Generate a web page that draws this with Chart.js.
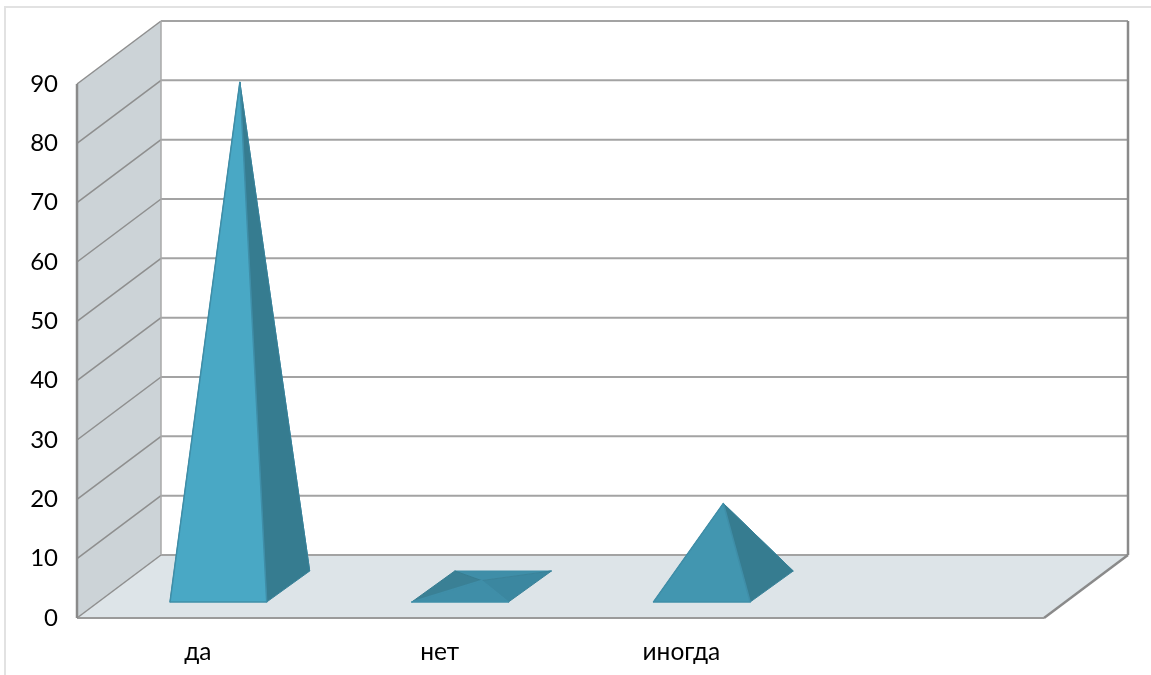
<!DOCTYPE html>
<html lang="ru">
<head>
<meta charset="utf-8">
<title>Диаграмма</title>
<script src="https://cdn.jsdelivr.net/npm/chart.js@4"></script>
<style>
    html, body { margin: 0; padding: 0; background: #fff; }
    canvas { display: block; }
</style>
</head>
<body>
<canvas id="pyramidChart" width="1151" height="675"></canvas>
<script>
const categories = ['да', 'нет', 'иногда', ''];
const values = [85, 1, 14, null];
const yTicks = [0, 10, 20, 30, 40, 50, 60, 70, 80, 90];

// Смещение задней стенки относительно передней плоскости
const DEPTH_X = 84;
const DEPTH_Y = -63;
// Положение пирамиды на полу
const BASE_SHIFT_X = 20.5;
const BASE_SHIFT_Y = -16;
const BASE_DEPTH_X = 43;
const BASE_DEPTH_Y = -31;

const colors = {
    frame: '#e2e2e2',
    sideWall: '#ccd3d7',
    floor: '#dde4e8',
    grid: '#a3a3a3',
    sideGrid: '#8e8e8e',
    edge: '#8a8a8a',
    front: ['#49a8c5', '#3f8ea8', '#4296b0'],
    right: ['#367c90', '#3b87a0', '#367c90'],
    left: '#3a8095',
    back: '#3f8ea8'
};

function poly(ctx, points, fill, stroke, width) {
    ctx.beginPath();
    points.forEach((p, i) => i ? ctx.lineTo(p[0], p[1]) : ctx.moveTo(p[0], p[1]));
    ctx.closePath();
    if (fill) {
        ctx.fillStyle = fill;
        ctx.fill();
    }
    if (stroke) {
        ctx.strokeStyle = stroke;
        ctx.lineWidth = width || 1;
        ctx.stroke();
    }
}

function line(ctx, x1, y1, x2, y2, color, width) {
    ctx.beginPath();
    ctx.moveTo(x1, y1);
    ctx.lineTo(x2, y2);
    ctx.strokeStyle = color;
    ctx.lineWidth = width;
    ctx.stroke();
}

const roomPlugin = {
    id: 'room',
    beforeDatasetsDraw(chart) {
        const { ctx, chartArea, scales } = chart;
        const { left, right, top, bottom } = chartArea;
        const backLeft = left + DEPTH_X;
        const backRight = right + DEPTH_X;
        const backTop = top + DEPTH_Y;
        const backBottom = bottom + DEPTH_Y;

        ctx.save();
        // Рамка области диаграммы
        line(ctx, 5, 7, chart.width, 7, colors.frame, 2);
        line(ctx, 5, 6, 5, chart.height, colors.frame, 2);

        poly(ctx, [[left, bottom], [backLeft, backBottom], [backLeft, backTop], [left, top]], colors.sideWall);
        poly(ctx, [[left, bottom], [backLeft, backBottom], [backRight, backBottom], [right, bottom]], colors.floor);

        yTicks.forEach(v => {
            const y = scales.y.getPixelForValue(v);
            line(ctx, left, y, backLeft, y + DEPTH_Y, colors.sideGrid, 1.5);
            line(ctx, backLeft, y + DEPTH_Y, backRight, y + DEPTH_Y, colors.grid, 2);
        });

        line(ctx, backLeft, backTop, backLeft, backBottom, '#a8a8a8', 1.5);
        line(ctx, backRight, backTop, backRight, backBottom, colors.edge, 2.5);
        line(ctx, backRight, backBottom, right, bottom, colors.edge, 2.5);
        line(ctx, left, bottom, right, bottom, '#9a9a9a', 2);
        line(ctx, left, top, left, bottom, colors.edge, 2.5);
        ctx.restore();
    },
    afterDatasetsDraw(chart) {
        const { ctx } = chart;
        ctx.save();
        ctx.lineJoin = 'round';
        chart.getDatasetMeta(0).data.forEach((bar, i) => {
            if (values[i] === null) return;
            // Основание и вершина считаются из элемента столбца
            const x0 = bar.x + BASE_SHIFT_X - bar.width / 2;
            const x1 = bar.x + BASE_SHIFT_X + bar.width / 2;
            const y0 = bar.base + BASE_SHIFT_Y;
            const frontL = [x0, y0];
            const frontR = [x1, y0];
            const backL = [x0 + BASE_DEPTH_X, y0 + BASE_DEPTH_Y];
            const backR = [x1 + BASE_DEPTH_X, y0 + BASE_DEPTH_Y];
            const apex = [bar.x + BASE_SHIFT_X + BASE_DEPTH_X / 2, bar.y + BASE_SHIFT_Y + BASE_DEPTH_Y / 2];

            poly(ctx, [backL, backR, apex], colors.back, colors.back, 1);
            poly(ctx, [frontL, backL, apex], colors.left, '#367c90', 1);
            poly(ctx, [frontR, backR, apex], colors.right[i], '#3a8299', 1);
            poly(ctx, [frontL, frontR, apex], colors.front[i], '#3f8ea8', 1.5);
        });
        ctx.restore();
    }
};

new Chart(document.getElementById('pyramidChart'), {
    type: 'bar',
    data: {
        labels: categories,
        datasets: [{
            data: values,
            backgroundColor: 'transparent',
            borderWidth: 0,
            categoryPercentage: 1,
            barPercentage: 0.4
        }]
    },
    options: {
        responsive: false,
        animation: false,
        layout: { padding: { top: 84, right: 107, bottom: 0, left: 0 } },
        plugins: {
            legend: { display: false },
            title: { display: false },
            tooltip: { enabled: false }
        },
        scales: {
            x: {
                grid: { display: false },
                border: { display: false },
                ticks: {
                    color: '#000',
                    font: { family: 'Lato', size: 24.5 },
                    padding: 11,
                    maxRotation: 0
                },
                afterFit(scale) { scale.height = 57; }
            },
            y: {
                min: 0,
                max: 90,
                grid: { display: false },
                border: { display: false },
                ticks: {
                    color: '#000',
                    font: { family: 'Lato', size: 24 },
                    stepSize: 10,
                    padding: 11,
                    autoSkip: false
                },
                afterFit(scale) { scale.width = 77; }
            }
        }
    },
    plugins: [roomPlugin]
});
</script>
</body>
</html>
